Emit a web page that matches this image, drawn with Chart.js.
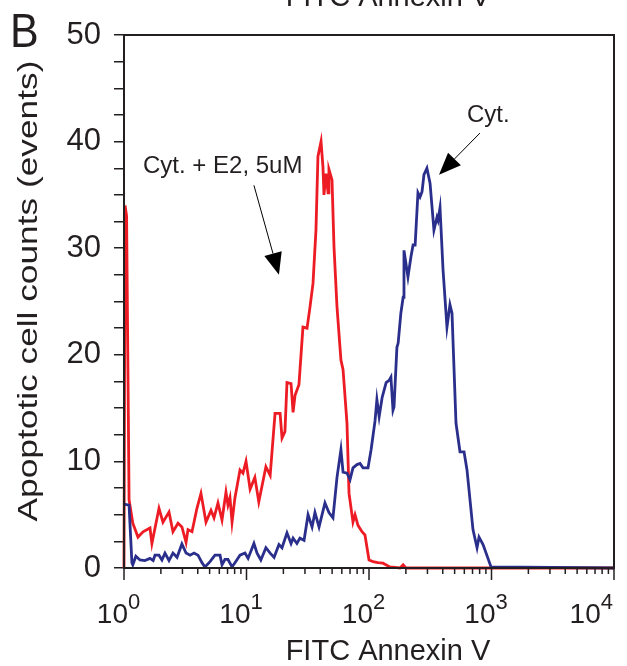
<!DOCTYPE html>
<html>
<head>
<meta charset="utf-8">
<script src="https://cdn.jsdelivr.net/npm/chart.js@4.4.1/dist/chart.umd.min.js"></script>
<style>
  html, body { margin: 0; padding: 0; background: #fff; }
</style>
</head>
<body>
<canvas id="chart" width="627" height="666"></canvas>
<script>
// Cyt. + E2 (5uM) histogram, red
const redX = [1.0, 1.02, 1.05, 1.10, 1.18, 1.30, 1.43, 1.63, 1.69, 1.93, 2.08, 2.33, 2.51, 2.76, 2.97, 3.21, 3.33, 3.59,
  3.94, 4.25, 4.67, 5.13, 5.43, 5.85, 6.31, 6.80, 7.06, 7.33, 7.62, 8.05, 8.85, 9.36, 9.91, 10.7, 11.7,
  12.6, 14.4, 15.6, 17.1, 18.8, 19.5, 20.6, 21.4, 23.1, 24.0, 24.9, 26.8, 28.9, 31.2, 33.0, 34.9, 36.9,
  38.3, 40.6, 42.1, 42.9, 44.6, 46.3, 47.1, 49.9, 51.8, 54.8, 59.0, 61.4, 66.1, 68.7, 74.0, 76.9, 81.3,
  87.7, 92.7, 100, 108, 118, 130, 148, 179, 190, 200, 10000];
const redY = [0, 34.0, 33.0, 6.4, 4.2, 2.9, 3.4, 3.75, 2.3, 5.6, 4.3, 5.25, 3.4, 4.2, 3.85, 2.4, 3.6, 3.4,
  5.6, 7.0, 4.3, 5.4, 4.7, 6.1, 4.5, 7.1, 5.9, 6.6, 4.3, 6.6, 9.2, 8.9, 10.0, 7.4, 8.5,
  6.2, 9.5, 8.7, 14.5, 14.5, 12.2, 12.8, 17.4, 17.3, 14.6, 16.2, 17.2, 22.6, 22.5, 24.5, 26.7, 31.7,
  38.6, 40.0, 37.6, 35.0, 37.0, 35.2, 37.4, 36.4, 30.1, 24.5, 19.5, 18.6, 13.6, 7.0, 4.3, 5.0, 4.0,
  3.4, 3.1, 0.75, 0.6, 0.5, 0.45, 0.1, 0, 0.3, 0, 0];

// Cyt. histogram, blue
const blueX = [1.0, 1.10, 1.16, 1.18, 1.25, 1.35, 1.48, 1.63, 1.73, 1.79, 1.93, 2.04, 2.16, 2.33, 2.51, 2.71,
  2.97, 3.21, 3.46, 3.73, 4.02, 4.33, 4.58, 5.04, 5.53, 6.08, 6.31, 6.67, 7.06, 7.62, 8.05, 8.85, 9.72,
  10.3, 11.5, 12.2, 13.1, 14.4, 15.6, 16.8, 18.4, 19.5, 21.4, 23.1, 24.0, 25.8, 27.3, 29.5, 31.8, 34.3,
  36.2, 39.1, 43.7, 47.1, 50.8, 54.8, 59.0, 61.4, 66.1, 70.0, 74.0, 79.8, 84.5, 89.3, 98.2, 104, 112,
  116, 121, 128, 138, 146, 151, 157, 160, 169, 173, 182, 190, 193, 208, 220, 229, 238, 251, 261, 271,
  281, 297, 315, 339, 359, 366, 380, 402, 433, 458, 476, 513, 553, 597, 631, 706, 762, 791, 853, 991, 10000];
const blueY = [6.0, 5.9, 0.5, 0.3, 1.1, 0.75, 0.7, 0.9, 0.7, 1.2, 1.2, 0.75, 1.4, 0.7, 1.4, 1.0,
  2.25, 1.4, 1.2, 1.4, 1.2, 0.5, 0.1, 0.6, 1.2, 1.2, 0.3, 0.8, 0.8, 0.1, 0.5, 1.2, 1.4,
  0.9, 2.3, 1.4, 0.75, 1.9, 1.4, 1.0, 2.2, 1.9, 3.3, 2.3, 2.8, 2.3, 2.8, 2.6, 5.0, 3.85,
  5.2, 3.85, 6.1, 5.2, 4.7, 8.5, 11.1, 9.0, 8.9, 8.3, 9.4, 9.7, 9.8, 9.4, 9.4, 11.1, 13.8,
  15.8, 14.2, 16.0, 17.4, 17.6, 17.9, 14.8, 15.1, 20.7, 21.1, 23.9, 25.4, 29.8, 27.3, 29.2, 30.3, 30.3, 35.2, 34.8, 35.3,
  36.9, 37.5, 36.1, 31.7, 32.9, 32.6, 33.8, 28.0, 22.6, 24.7, 23.9, 13.6, 10.9, 10.9, 9.2, 3.6, 1.9, 2.9, 2.2, 0.1, 0];

const yTickValues = [0, 10, 20, 30, 40, 50];
const xDecades = [0, 1, 2, 3, 4];
const xTitle = 'FITC Annexin V';
const yTitle = 'Apoptotic cell counts (events)';
const panelLabel = 'B';

// annotation text and arrows, in data units
const noteE2 = { text: 'Cyt. + E2, 5uM', x: 1.43, y: 37.1, from: [11.5, 35.9], to: [18.4, 27.5] };
const noteCyt = { text: 'Cyt.', x: 631, y: 41.8, from: [805, 40.8], to: [373, 36.9] };

const ink = '#231f20';
const FONT = '"Liberation Sans", Arial, Helvetica, sans-serif';

function toPoints(xs, ys) {
  return xs.map((x, i) => ({ x: x, y: ys[i] }));
}

function arrow(ctx, x1, y1, x2, y2) {
  const ang = Math.atan2(y2 - y1, x2 - x1);
  const len = 22, half = 9;
  const bx = x2 - len * Math.cos(ang), by = y2 - len * Math.sin(ang);
  ctx.beginPath();
  ctx.moveTo(x1, y1);
  ctx.lineTo(bx, by);
  ctx.stroke();
  ctx.beginPath();
  ctx.moveTo(x2, y2);
  ctx.lineTo(bx + half * Math.sin(ang), by - half * Math.cos(ang));
  ctx.lineTo(bx - half * Math.sin(ang), by + half * Math.cos(ang));
  ctx.closePath();
  ctx.fill();
}

const decorations = {
  id: 'decorations',
  afterDatasetsDraw(chart) {
    const ctx = chart.ctx;
    const { left, right, top, bottom } = chart.chartArea;
    const xs = chart.scales.x, ys = chart.scales.y;
    ctx.save();

    // frame
    ctx.strokeStyle = ink;
    ctx.lineWidth = 2;
    ctx.strokeRect(left, top, right - left, bottom - top);

    // log ticks on x
    ctx.lineWidth = 1.5;
    for (let p = 0; p < 4; p++) {
      for (let m = 1; m < 10; m++) {
        const px = xs.getPixelForValue(m * Math.pow(10, p));
        ctx.beginPath();
        ctx.moveTo(px, bottom);
        ctx.lineTo(px, bottom + (m === 1 ? 12 : 6));
        ctx.stroke();
      }
    }
    const pEnd = xs.getPixelForValue(10000);
    ctx.beginPath();
    ctx.moveTo(pEnd, bottom);
    ctx.lineTo(pEnd, bottom + 12);
    ctx.stroke();

    // x tick labels 10^n
    ctx.fillStyle = ink;
    xDecades.forEach(d => {
      const px = xs.getPixelForValue(Math.pow(10, d));
      ctx.font = '22px ' + FONT;
      const ew = ctx.measureText(String(d)).width;
      const anchor = Math.min(px + 4, 613 - ew);
      ctx.textAlign = 'right';
      ctx.textBaseline = 'alphabetic';
      ctx.font = '28px ' + FONT;
      ctx.fillText('10', anchor, 623);
      ctx.textAlign = 'left';
      ctx.font = '22px ' + FONT;
      ctx.fillText(String(d), anchor, 609);
    });

    // axis titles
    ctx.textAlign = 'center';
    ctx.font = '29px ' + FONT;
    ctx.fillText(xTitle, 388, 660);
    ctx.fillText(xTitle, 388, 6);

    ctx.save();
    ctx.translate(29, 291);
    ctx.rotate(-Math.PI / 2);
    ctx.scale(1.26, 1);
    ctx.textBaseline = 'middle';
    ctx.font = '28px ' + FONT;
    ctx.fillText(yTitle, 0, 0);
    ctx.restore();

    // panel letter
    ctx.save();
    ctx.translate(10, 47);
    ctx.scale(1, 1.12);
    ctx.textAlign = 'left';
    ctx.font = '43px ' + FONT;
    ctx.fillText(panelLabel, 0, 0);
    ctx.restore();

    // annotations
    ctx.font = '24px ' + FONT;
    ctx.textAlign = 'left';
    ctx.lineWidth = 1;
    ctx.strokeStyle = '#000';
    [noteE2, noteCyt].forEach(n => {
      ctx.fillStyle = ink;
      ctx.fillText(n.text, xs.getPixelForValue(n.x), ys.getPixelForValue(n.y));
      ctx.fillStyle = '#000';
      arrow(ctx, xs.getPixelForValue(n.from[0]), ys.getPixelForValue(n.from[1]),
        xs.getPixelForValue(n.to[0]), ys.getPixelForValue(n.to[1]));
    });

    ctx.restore();
  }
};

new Chart(document.getElementById('chart'), {
  type: 'line',
  data: {
    datasets: [
      {
        label: 'Cyt.',
        data: toPoints(blueX, blueY),
        borderColor: 'rgb(43,47,140)',
        borderWidth: 2.8,
        pointRadius: 0,
        tension: 0,
        fill: false
      },
      {
        label: 'Cyt. + E2, 5uM',
        data: toPoints(redX, redY),
        borderColor: 'rgb(237,28,36)',
        borderWidth: 2.8,
        pointRadius: 0,
        tension: 0,
        fill: false
      }
    ]
  },
  options: {
    responsive: false,
    animation: false,
    devicePixelRatio: 1,
    clip: false,
    layout: { padding: { top: 35, right: 13, left: 0, bottom: 0 } },
    plugins: {
      legend: { display: false },
      tooltip: { enabled: false }
    },
    scales: {
      x: {
        type: 'logarithmic',
        min: 1,
        max: 10000,
        ticks: { display: false },
        grid: { display: false },
        border: { display: false },
        afterFit(scale) { scale.height = 98; }
      },
      y: {
        min: 0,
        max: 50,
        afterBuildTicks(scale) {
          const t = [];
          for (let v = 0; v <= 50; v += 2.5) t.push({ value: v });
          scale.ticks = t;
        },
        ticks: {
          autoSkip: false,
          padding: 13,
          color: ink,
          font: { family: FONT, size: 31 },
          callback: v => (yTickValues.includes(v) ? String(v) : '')
        },
        grid: {
          drawOnChartArea: false,
          drawTicks: true,
          tickLength: 10,
          color: ink,
          lineWidth: 1.5
        },
        border: { display: false },
        afterFit(scale) { scale.width = 124; }
      }
    }
  },
  plugins: [decorations]
});
</script>
</body>
</html>
